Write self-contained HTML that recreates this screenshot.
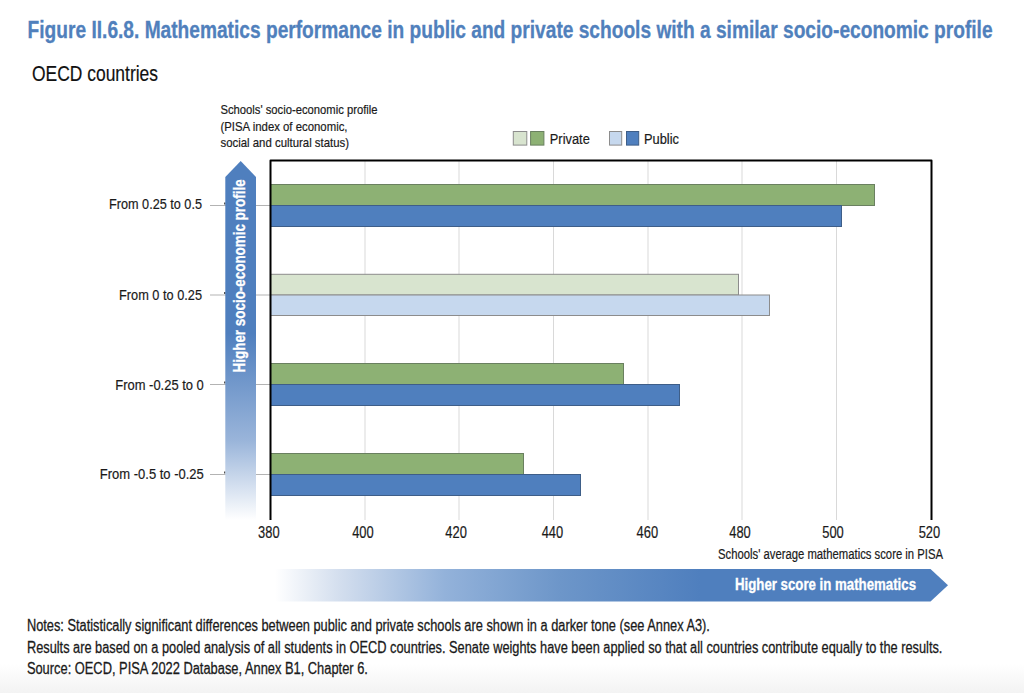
<!DOCTYPE html>
<html><head><meta charset="utf-8">
<style>
html,body{margin:0;padding:0;background:#fff;width:1024px;height:693px;overflow:hidden}
svg{display:block}
text{font-family:"Liberation Sans",sans-serif;}
</style></head>
<body>
<svg width="1024" height="693" viewBox="0 0 1024 693">
<defs>
<linearGradient id="vg" x1="0" y1="0" x2="0" y2="1">
<stop offset="0" stop-color="#4f7fbe"/>
<stop offset="0.48" stop-color="#4f7fbe"/>
<stop offset="0.78" stop-color="#9ab5da"/>
<stop offset="1" stop-color="#ffffff"/>
</linearGradient>
<linearGradient id="hg" gradientUnits="userSpaceOnUse" x1="275" y1="0" x2="948" y2="0">
<stop offset="0" stop-color="#ffffff"/>
<stop offset="0.0966" stop-color="#d3deee"/>
<stop offset="0.2526" stop-color="#93b2da"/>
<stop offset="0.4235" stop-color="#6d96c9"/>
<stop offset="0.6315" stop-color="#4f7fbe"/>
<stop offset="1" stop-color="#4f7fbe"/>
</linearGradient>
<linearGradient id="bg" x1="0" y1="0" x2="0" y2="1">
<stop offset="0" stop-color="#ffffff"/>
<stop offset="1" stop-color="#f3f3f3"/>
</linearGradient>
</defs>
<rect x="0" y="664" width="1024" height="29" fill="url(#bg)"/>

<!-- Title -->
<text x="27.6" y="38.2" font-size="23.2" font-weight="bold" fill="#5080bc" stroke="#5080bc" stroke-width="0.3" textLength="965" lengthAdjust="spacingAndGlyphs">Figure II.6.8. Mathematics performance in public and private schools with a similar socio-economic profile</text>
<text x="32" y="81.4" font-size="22.5" fill="#111" stroke="#111" stroke-width="0.2" textLength="126" lengthAdjust="spacingAndGlyphs">OECD countries</text>

<!-- y-axis title -->
<text x="220.5" y="113.7" font-size="13" fill="#1a1a1a" stroke="#1a1a1a" stroke-width="0.2" textLength="157" lengthAdjust="spacingAndGlyphs">Schools' socio-economic profile</text>
<text x="220.5" y="131.2" font-size="13" fill="#1a1a1a" stroke="#1a1a1a" stroke-width="0.2" textLength="127" lengthAdjust="spacingAndGlyphs">(PISA index of economic,</text>
<text x="220.5" y="146.6" font-size="13" fill="#1a1a1a" stroke="#1a1a1a" stroke-width="0.2" textLength="128.5" lengthAdjust="spacingAndGlyphs">social and cultural status)</text>

<!-- legend -->
<rect x="513.3" y="131.5" width="13.5" height="13.6" fill="#d8e4cf" stroke="#8c8c8c" stroke-width="1"/>
<rect x="530.6" y="131.5" width="13.3" height="13.6" fill="#8db174" stroke="#6a8060" stroke-width="1"/>
<text x="549.8" y="143.7" font-size="15.2" fill="#1a1a1a" stroke="#1a1a1a" stroke-width="0.2" textLength="40" lengthAdjust="spacingAndGlyphs">Private</text>
<rect x="609.5" y="131.5" width="12.2" height="13.6" fill="#c6d8ee" stroke="#8c8c8c" stroke-width="1"/>
<rect x="626.5" y="131.5" width="12.2" height="13.6" fill="#4f7fbe" stroke="#3e5e88" stroke-width="1"/>
<text x="644" y="143.7" font-size="15.2" fill="#1a1a1a" stroke="#1a1a1a" stroke-width="0.2" textLength="35" lengthAdjust="spacingAndGlyphs">Public</text>

<!-- gridlines -->
<g stroke="#d9d9d9" stroke-width="1">
<line x1="365" y1="161" x2="365" y2="520"/>
<line x1="459" y1="161" x2="459" y2="520"/>
<line x1="553.5" y1="161" x2="553.5" y2="520"/>
<line x1="648" y1="161" x2="648" y2="520"/>
<line x1="742" y1="161" x2="742" y2="520"/>
<line x1="836.5" y1="161" x2="836.5" y2="520"/>
</g>
<!-- category tick lines -->
<g stroke="#b3b3b3" stroke-width="1">
<line x1="210" y1="205.5" x2="270" y2="205.5"/>
<line x1="210" y1="295" x2="270" y2="295"/>
<line x1="210" y1="384.5" x2="270" y2="384.5"/>
<line x1="210" y1="474.5" x2="270" y2="474.5"/>
</g>
<g fill="#505050">
<rect x="224" y="202.5" width="1.6" height="2"/>
<rect x="224" y="292" width="1.6" height="2"/>
<rect x="224" y="381.5" width="1.6" height="2"/>
<rect x="224" y="471.5" width="1.6" height="2"/>
</g>

<!-- bars -->
<g stroke-width="1">
<rect x="270.5" y="184.5" width="604" height="21" fill="#8db174" stroke="#6a8060"/>
<rect x="270.5" y="205.5" width="571" height="21" fill="#4f7fbe" stroke="#3e5e88"/>
<rect x="270.5" y="274.3" width="468" height="20.7" fill="#d8e4cf" stroke="#8c8c8c"/>
<rect x="270.5" y="295" width="499" height="20.5" fill="#c6d8ee" stroke="#8c8c8c"/>
<rect x="270.5" y="363.5" width="353" height="21" fill="#8db174" stroke="#6a8060"/>
<rect x="270.5" y="384.5" width="409" height="21" fill="#4f7fbe" stroke="#3e5e88"/>
<rect x="270.5" y="453.5" width="253" height="21" fill="#8db174" stroke="#6a8060"/>
<rect x="270.5" y="474.5" width="310" height="21" fill="#4f7fbe" stroke="#3e5e88"/>
</g>

<!-- frame -->
<path d="M270.5 520 V160.5 H931.5 V520" fill="none" stroke="#000" stroke-width="2" stroke-linejoin="round"/>

<!-- vertical arrow -->
<path d="M225.3 177 L240.7 161 L256 177 L256 520 L225.3 520 Z" fill="url(#vg)"/>
<text transform="translate(244.8 372.4) rotate(-90)" font-size="17" font-weight="bold" fill="#fff" stroke="#fff" stroke-width="0.3" textLength="193" lengthAdjust="spacingAndGlyphs">Higher socio-economic profile</text>

<!-- category labels -->
<g font-size="15" fill="#1a1a1a" stroke="#1a1a1a" stroke-width="0.2" text-anchor="end">
<text x="202" y="208.8" textLength="93" lengthAdjust="spacingAndGlyphs">From 0.25 to 0.5</text>
<text x="202" y="299.7" textLength="83" lengthAdjust="spacingAndGlyphs">From 0 to 0.25</text>
<text x="203.8" y="389.7" textLength="88.5" lengthAdjust="spacingAndGlyphs">From -0.25 to 0</text>
<text x="203.8" y="478.8" textLength="104" lengthAdjust="spacingAndGlyphs">From -0.5 to -0.25</text>
</g>

<!-- tick labels -->
<g font-size="16" fill="#1a1a1a" stroke="#1a1a1a" stroke-width="0.2" text-anchor="middle">
<text x="268.8" y="538.3" textLength="21.5" lengthAdjust="spacingAndGlyphs">380</text>
<text x="362.9" y="538.3" textLength="21.5" lengthAdjust="spacingAndGlyphs">400</text>
<text x="456.1" y="538.3" textLength="21.5" lengthAdjust="spacingAndGlyphs">420</text>
<text x="552.4" y="538.3" textLength="21.5" lengthAdjust="spacingAndGlyphs">440</text>
<text x="647.3" y="538.3" textLength="21.5" lengthAdjust="spacingAndGlyphs">460</text>
<text x="740" y="538.3" textLength="21.5" lengthAdjust="spacingAndGlyphs">480</text>
<text x="833" y="538.3" textLength="21.5" lengthAdjust="spacingAndGlyphs">500</text>
<text x="929.4" y="538.3" textLength="21.5" lengthAdjust="spacingAndGlyphs">520</text>
</g>
<text x="718" y="559" font-size="14" fill="#1a1a1a" stroke="#1a1a1a" stroke-width="0.2" textLength="225" lengthAdjust="spacingAndGlyphs">Schools' average mathematics score in PISA</text>

<!-- horizontal arrow -->
<path d="M274 569 L930.5 569 L948 585.2 L930.5 601.5 L274 601.5 Z" fill="url(#hg)"/>
<text x="735" y="590.2" font-size="15.7" font-weight="bold" fill="#fff" stroke="#fff" stroke-width="0.3" textLength="181" lengthAdjust="spacingAndGlyphs">Higher score in mathematics</text>

<!-- notes -->
<g font-size="15.8" fill="#1a1a1a" stroke="#1a1a1a" stroke-width="0.28">
<text x="26.9" y="631.1" textLength="683" lengthAdjust="spacingAndGlyphs">Notes: Statistically significant differences between public and private schools are shown in a darker tone (see Annex A3).</text>
<text x="26.9" y="652.6" textLength="915.5" lengthAdjust="spacingAndGlyphs">Results are based on a pooled analysis of all students in OECD countries. Senate weights have been applied so that all countries contribute equally to the results.</text>
<text x="26.9" y="673.7" textLength="341" lengthAdjust="spacingAndGlyphs">Source: OECD, PISA 2022 Database, Annex B1, Chapter 6.</text>
</g>
</svg>
</body></html>
